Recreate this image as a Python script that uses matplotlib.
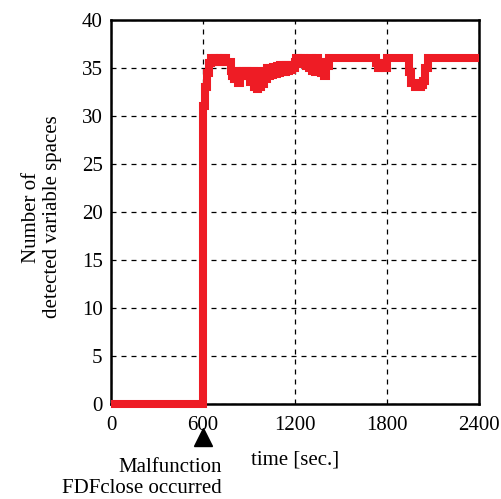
import matplotlib
matplotlib.use("Agg")
import matplotlib.pyplot as plt

plt.rcParams['font.family'] = ['Liberation Serif', 'DejaVu Serif']

# detected variable spaces over time
time_sec = [0, 600, 602, 612, 625, 640, 650,
            660, 670, 680, 690, 700, 710, 720, 730, 740, 750, 760, 770,
            780, 790, 800, 810, 820, 830, 840, 850, 860, 870, 880, 890,
            900, 910, 920, 930, 940, 950, 960, 970, 980, 990,
            1000, 1010, 1020, 1030, 1040, 1050, 1060, 1070, 1080, 1090,
            1100, 1110, 1120, 1130, 1140, 1150, 1160, 1170, 1180, 1190,
            1200, 1210, 1220, 1230, 1240, 1250, 1260, 1270, 1280, 1290,
            1300, 1310, 1320, 1330, 1340, 1350, 1360, 1370, 1380, 1390,
            1400, 1410, 1420, 1720, 1730, 1740, 1750, 1760, 1770, 1780,
            1790, 1800, 1930, 1945, 1960, 1980, 2000, 2020, 2035, 2050,
            2065, 2400]
n_spaces = [0, 29.5, 31, 33, 34.5, 35.5, 36,
            36, 35.6, 36, 36, 35.6, 36, 36, 35.6, 36, 35.6, 35.6, 35.6,
            34.7, 34.2, 33.9, 34.7, 33.9, 33.4, 34.7, 34.2, 34.7, 34.2, 34.7, 34.2,
            34.7, 33.5, 34.7, 33.0, 33.6, 32.8, 34.7, 33.0, 33.6, 33.3,
            34.7, 33.8, 35.0, 34.2, 35.0, 34.3, 35.1, 34.4, 35.2, 34.5,
            35.3, 34.6, 35.3, 34.6, 35.3, 34.7, 35.3, 34.8, 35.3, 35.0,
            35.6, 36, 35.4, 36, 35.4, 36, 35.6, 35.2, 35.6, 35.0,
            36, 34.7, 35.6, 34.6, 36, 34.7, 35.6, 34.5, 35.2, 34.2,
            35.6, 35.2, 36, 36, 35.5, 35.0, 35.5, 35.0, 35.0, 35.5,
            35.0, 36, 36, 34.6, 33.4, 33.0, 33.0, 33.2, 33.6, 35.0,
            36, 36]

x_ticks = [0, 600, 1200, 1800, 2400]
y_ticks = [0, 5, 10, 15, 20, 25, 30, 35, 40]
malfunction_t = 600

fig = plt.figure(figsize=(5.02, 4.99), dpi=100)
ax = fig.add_axes([0.221, 0.1904, 0.733, 0.7696])

ax.plot(time_sec, n_spaces, color='#ee1c25', linewidth=5.8,
        drawstyle='steps-post', solid_joinstyle='miter', solid_capstyle='butt',
        clip_on=False, zorder=3)

ax.set_xlim(0, 2400)
ax.set_ylim(0, 40)
ax.set_xticks(x_ticks)
ax.set_yticks(y_ticks)
ax.tick_params(length=0, labelsize=15)
ax.tick_params(axis='x', pad=9)
ax.tick_params(axis='y', pad=6)
ax.grid(True, color='black', linestyle=(0, (4, 4)), linewidth=0.9)
for s in ax.spines.values():
    s.set_linewidth(1.8)

# malfunction marker below the axis
ax.plot([malfunction_t], [-3.45], marker='^', markersize=13, color='black',
        clip_on=False, linestyle='none')
fig.text(222 / 502, 1 - 472 / 499, 'Malfunction', ha='right', va='baseline', fontsize=15)
fig.text(222 / 502, 1 - 493 / 499, 'FDFclose occurred', ha='right', va='baseline', fontsize=15)
fig.text(295 / 502, 1 - 465 / 499, 'time [sec.]', ha='center', va='baseline', fontsize=15)

fig.text(42 / 502, 1 - 217 / 499, 'Number of\ndetected variable spaces',
         rotation=90, ha='center', va='center', fontsize=15, linespacing=1.15)

fig.savefig('out.png', dpi=100)
